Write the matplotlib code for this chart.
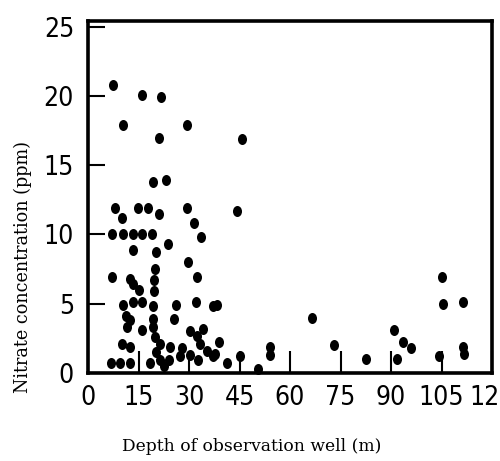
import matplotlib
matplotlib.use("Agg")
import matplotlib.pyplot as plt
from matplotlib import font_manager
from matplotlib.path import Path
from matplotlib.transforms import Affine2D

depth = [7.3, 16.1, 21.8, 10.3, 21.2, 29.5, 45.6, 19.2, 23.2, 8.0, 14.9, 17.9, 21.1, 29.5, 44.3,
         10.2, 31.5, 7.0, 10.3, 13.5, 16.1, 18.9, 33.6, 23.9, 13.5, 20.1, 29.8, 19.9, 7.0, 12.5,
         13.5, 15.0, 32.5, 19.6, 19.6, 10.3, 13.5, 15.9, 19.4, 26.1, 32.1, 37.0, 38.4, 25.6, 11.3,
         12.5, 11.5, 19.4, 19.4, 16.1, 30.3, 34.2, 32.3, 39.0, 10.0, 12.5, 21.4, 24.4, 27.8, 33.3,
         35.2, 37.7, 45.1, 6.7, 9.5, 12.5, 18.4, 21.4, 22.5, 24.0, 27.3, 30.3, 32.8, 37.2, 41.2,
         50.6, 54.1, 54.1, 66.4, 73.1, 82.6, 90.9, 93.7, 95.8, 91.9, 104.3, 105.2, 105.5, 111.3,
         111.3, 111.7, 20.0, 20.3]
nitrate = [20.8, 20.1, 19.9, 17.9, 17.0, 17.9, 16.9, 13.8, 13.9, 11.9, 11.9, 11.9, 11.5, 11.9, 11.7,
           11.2, 10.8, 10.0, 10.0, 10.0, 10.0, 10.0, 9.8, 9.3, 8.9, 8.7, 8.0, 7.5, 6.9, 6.8,
           6.4, 6.0, 6.9, 6.7, 5.9, 4.9, 5.1, 5.1, 4.8, 4.9, 5.1, 4.8, 4.9, 3.9, 4.1,
           3.8, 3.3, 3.9, 3.3, 3.1, 3.0, 3.2, 2.7, 2.2, 2.1, 1.9, 2.1, 1.9, 1.8, 2.1,
           1.6, 1.4, 1.2, 0.7, 0.7, 0.7, 0.7, 0.9, 0.5, 0.9, 1.2, 1.3, 0.9, 1.2, 0.7,
           0.3, 1.9, 1.3, 4.0, 2.0, 1.0, 3.1, 2.2, 1.8, 1.0, 1.2, 6.9, 5.0, 5.1,
           1.9, 1.4, 2.6, 1.5]

x_ticks = [0, 15, 30, 45, 60, 75, 90, 105, 120]
y_ticks = [0, 5, 10, 15, 20, 25]

# condensed sans for tick labels if available
cands = []
for f in font_manager.fontManager.ttflist:
    st = str(f.stretch).lower()
    if ("narrow" in f.name.lower() or "condensed" in f.name.lower() or "condensed" in st) \
            and f.style == "normal" and str(f.weight) in ("400", "normal", "regular", "book"):
        cands.append(f)
cands.sort(key=lambda f: (0 if "Liberation" in f.name else 1 if "DejaVu" in f.name else 2, f.fname))
if cands:
    tick_fp = font_manager.FontProperties(fname=cands[0].fname, size=19)
else:
    tick_fp = font_manager.FontProperties(family="Liberation Sans", size=16)

# slightly tall elliptical dot
circ = Path.unit_circle()
dot = circ.transformed(Affine2D().scale(0.82, 1.0))

fig = plt.figure(figsize=(5.0, 4.61), dpi=100)
ax = fig.add_axes([0.176, 0.191, 0.808, 0.763])

ax.scatter(depth, nitrate, s=63, c="black", marker=dot, linewidths=0, zorder=3, clip_on=False)

ax.set_xlim(0, 120)
ax.set_ylim(0, 25.4)
ax.set_xticks(x_ticks)
ax.set_yticks(y_ticks)
ax.set_xticklabels([str(t) for t in x_ticks])
ax.set_yticklabels([str(t) for t in y_ticks])

for s in ax.spines.values():
    s.set_linewidth(2.6)
    s.set_color("black")

ax.tick_params(axis="x", direction="in", length=16, width=1.5, colors="black", pad=9)
ax.tick_params(axis="y", direction="in", length=12, width=1.5, colors="black", pad=10)
for lab in ax.get_xticklabels() + ax.get_yticklabels():
    lab.set_fontproperties(tick_fp)

ax.set_xlabel("Depth of observation well (m)", family="DejaVu Serif", fontsize=12.3)
ax.set_ylabel("Nitrate concentration (ppm)", family="DejaVu Serif", fontsize=12.7)
ax.xaxis.set_label_coords(0.406, -0.185)
ax.yaxis.set_label_coords(-0.139, 0.30)

fig.savefig("out.png", dpi=100)
